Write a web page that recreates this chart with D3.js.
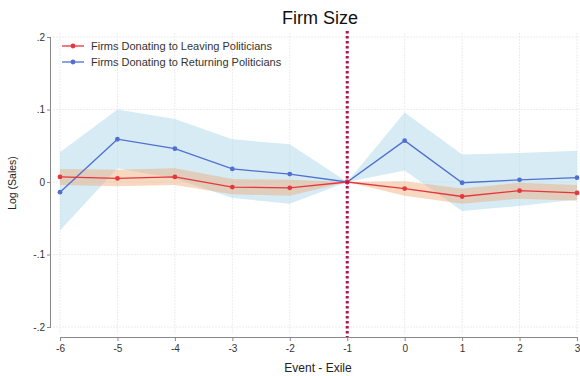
<!DOCTYPE html>
<html>
<head>
<meta charset="utf-8">
<script src="https://cdn.jsdelivr.net/npm/d3@7"></script>
<style>
  body { margin: 0; background: #fff; }
  svg { font-family: Arial, "Liberation Sans", sans-serif; }
</style>
</head>
<body>
<div id="chart"></div>
<script>
// event time (years relative to exile)
const eventTimes = [-6, -5, -4, -3, -2, -1, 0, 1, 2, 3];

// firms donating to leaving politicians
const leavingCoef = [0.007, 0.005, 0.007, -0.007, -0.008, 0, -0.009, -0.020, -0.012, -0.015];
const leavingLow  = [-0.004, -0.006, -0.004, -0.017, -0.019, 0, -0.019, -0.030, -0.023, -0.026];
const leavingHigh = [0.018, 0.017, 0.019, 0.004, 0.003, 0, 0.001, -0.009, -0.001, -0.004];

// firms donating to returning politicians
const returningCoef = [-0.014, 0.059, 0.046, 0.018, 0.011, 0, 0.057, -0.001, 0.003, 0.006];
const returningLow  = [-0.067, 0.019, 0.005, -0.022, -0.030, 0, 0.016, -0.040, -0.033, -0.024];
const returningHigh = [0.041, 0.100, 0.087, 0.059, 0.052, 0, 0.096, 0.038, 0.040, 0.043];

const yTicks = [0.2, 0.1, 0, -0.1, -0.2];
const yTickLabels = ['.2', '.1', '0', '-.1', '-.2'];
const eventLine = -1;

const seriesNames = ['Firms Donating to Leaving Politicians', 'Firms Donating to Returning Politicians'];

const W = 580, H = 376;
const lineColors = ['#e8353c', '#4f70cf'];
const bandColors = ['rgba(236, 165, 110, 0.42)', 'rgba(175, 215, 235, 0.5)'];

const svg = d3.select('#chart').append('svg')
    .attr('width', W)
    .attr('height', H);

const xScale = d3.scaleLinear().domain([-6, 3]).range([60, 577]);
const yScale = d3.scaleLinear().domain([-0.2, 0.2]).range([327, 37]);

// grid
const gGrid = svg.append('g').attr('class', 'grid');
gGrid.selectAll('.vgrid')
    .data(eventTimes)
    .enter()
    .append('line')
    .attr('x1', d => xScale(d)).attr('x2', d => xScale(d))
    .attr('y1', 33).attr('y2', 334)
    .attr('stroke', '#ececec')
    .attr('stroke-width', 1)
    .attr('stroke-dasharray', '2,1');
gGrid.selectAll('.hgrid')
    .data(yTicks)
    .enter()
    .append('line')
    .attr('x1', 53).attr('x2', 579)
    .attr('y1', d => yScale(d)).attr('y2', d => yScale(d))
    .attr('stroke', '#ececec')
    .attr('stroke-width', 1)
    .attr('stroke-dasharray', '2,1');

const series = [
    { name: seriesNames[0], coef: leavingCoef, low: leavingLow, high: leavingHigh },
    { name: seriesNames[1], coef: returningCoef, low: returningLow, high: returningHigh }
];

const area = d3.area()
    .x((d, i) => xScale(eventTimes[i]))
    .y0(d => yScale(d[0]))
    .y1(d => yScale(d[1]));

const lineMaker = d3.line()
    .x((d, i) => xScale(eventTimes[i]))
    .y(d => yScale(d));

// bands: blue drawn first, orange on top
[1, 0].forEach(k => {
    const s = series[k];
    svg.append('path')
        .attr('d', area(s.low.map((l, i) => [l, s.high[i]])))
        .attr('fill', bandColors[k]);
});

// lines + markers
[1, 0].forEach(k => {
    const s = series[k];
    svg.append('path')
        .attr('d', lineMaker(s.coef))
        .attr('fill', 'none')
        .attr('stroke', lineColors[k])
        .attr('stroke-width', 1.3);
    svg.selectAll('.pt' + k)
        .data(s.coef)
        .enter()
        .append('circle')
        .attr('cx', (d, i) => xScale(eventTimes[i]))
        .attr('cy', d => yScale(d))
        .attr('r', 2.4)
        .attr('fill', lineColors[k]);
});

// event line
svg.append('line')
    .attr('x1', xScale(eventLine)).attr('x2', xScale(eventLine))
    .attr('y1', 31).attr('y2', 337)
    .attr('stroke', '#b3134a')
    .attr('stroke-width', 3)
    .attr('stroke-dasharray', '2.5,2.5');

// y axis
const yAx = svg.append('g')
    .attr('transform', 'translate(51,0)')
    .call(d3.axisLeft(yScale).tickValues(yTicks).tickSize(4).tickFormat((d, i) => yTickLabels[i]));
yAx.select('.domain').attr('stroke', '#888').attr('d', `M-0.5,${yScale(0.2)}V${yScale(-0.2)}`);
yAx.selectAll('.tick line').attr('stroke', '#888');
yAx.selectAll('.tick text').attr('fill', '#333').style('font-size', '10px').attr('x', -6);

// x axis
const xAx = svg.append('g')
    .attr('transform', 'translate(0,337)')
    .call(d3.axisBottom(xScale).tickValues(eventTimes).tickSize(4).tickFormat(d => String(d)));
xAx.select('.domain').attr('stroke', '#888').attr('d', `M${xScale(-6)},0.5H${xScale(3)}`);
xAx.selectAll('.tick line').attr('stroke', '#888');
xAx.selectAll('.tick text').attr('fill', '#333').style('font-size', '10px').attr('y', 8);

// titles
svg.append('text')
    .attr('x', 320).attr('y', 24)
    .attr('text-anchor', 'middle')
    .style('font-size', '18px')
    .attr('fill', '#111')
    .text('Firm Size');

svg.append('text')
    .attr('x', 318).attr('y', 372)
    .attr('text-anchor', 'middle')
    .style('font-size', '12px')
    .attr('fill', '#222')
    .text('Event - Exile');

svg.append('text')
    .attr('transform', 'translate(16,183) rotate(-90)')
    .attr('text-anchor', 'middle')
    .style('font-size', '10.5px')
    .attr('fill', '#222')
    .text('Log (Sales)');

// legend
const gLegend = svg.append('g').attr('class', 'legend');
seriesNames.forEach((name, i) => {
    const y = 46 + i * 16;
    gLegend.append('line')
        .attr('x1', 62).attr('x2', 84)
        .attr('y1', y).attr('y2', y)
        .attr('stroke', lineColors[i])
        .attr('stroke-width', 1.3);
    gLegend.append('circle')
        .attr('cx', 73).attr('cy', y).attr('r', 2.4)
        .attr('fill', lineColors[i]);
    gLegend.append('text')
        .attr('x', 91).attr('y', y + 4)
        .style('font-size', '11px')
        .attr('fill', '#333')
        .text(name);
});
</script>
</body>
</html>
